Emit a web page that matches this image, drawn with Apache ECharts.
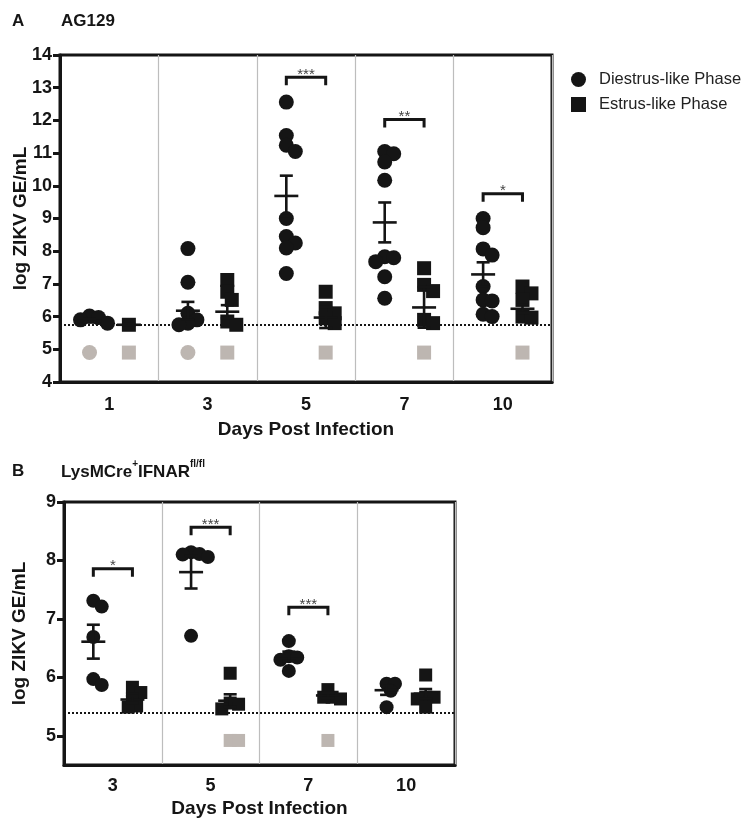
<!DOCTYPE html>
<html>
<head>
<meta charset="utf-8">
<script src="https://cdn.jsdelivr.net/npm/echarts@6/dist/echarts.min.js"></script>
<style>
  html, body { margin: 0; padding: 0; background: #fff; }
  #chart { width: 754px; height: 831px; }
</style>
</head>
<body>
<div id="chart"></div>
<script>
// ---- panel A : AG129 ----
var daysA = ['1', '3', '5', '7', '10'];
var diestrusA = [
    [6.02, 5.97, 5.9, 5.8],
    [8.08, 7.05, 6.1, 5.9, 5.8, 5.75],
    [12.56, 11.54, 11.24, 11.05, 9.0, 8.45, 8.25, 8.1, 7.32],
    [11.05, 10.98, 10.73, 10.17, 7.83, 7.8, 7.68, 7.22, 6.56],
    [9.0, 8.72, 8.07, 7.88, 6.92, 6.51, 6.48, 6.07, 6.0]
];
var estrusA = [
    [5.75],
    [7.12, 6.76, 6.51, 5.85, 5.75],
    [6.76, 6.26, 6.1, 5.95, 5.8],
    [7.48, 6.97, 6.78, 5.9, 5.8],
    [6.92, 6.71, 6.51, 6.0, 5.97]
];
var meanDiestrusA = [5.87, 6.18, 9.69, 8.88, 7.29];
var semDiestrusA = [0.05, 0.27, 0.62, 0.61, 0.37];
var meanEstrusA = [5.75, 6.15, 5.97, 6.28, 6.24];
var semEstrusA = [0.02, 0.2, 0.32, 0.62, 0.13];
var belowDiestrusA = [[4.9], [4.9], [], [], []];
var belowEstrusA = [[4.9], [4.9], [4.9], [4.9], [4.9]];
var limitA = 5.75;
var sigDayA = [2, 3, 4];
var sigHeightA = [13.32, 12.03, 9.76];
var sigStarsA = ['***', '**', '*'];

// ---- panel B : LysMCre+IFNAR fl/fl ----
var daysB = ['3', '5', '7', '10'];
var diestrusB = [
    [7.31, 7.21, 6.69, 5.97, 5.87],
    [8.14, 8.11, 8.1, 8.06, 6.71],
    [6.62, 6.36, 6.34, 6.3, 6.11],
    [5.89, 5.89, 5.77, 5.49]
];
var estrusB = [
    [5.83, 5.74, 5.63, 5.51, 5.49],
    [6.07, 5.56, 5.54, 5.46],
    [5.79, 5.66, 5.66, 5.63],
    [6.04, 5.66, 5.66, 5.63, 5.49]
];
var meanDiestrusB = [6.61, 7.8, 6.36, 5.78];
var semDiestrusB = [0.29, 0.28, 0.08, 0.08];
var meanEstrusB = [5.62, 5.6, 5.69, 5.72];
var semEstrusB = [0.06, 0.11, 0.04, 0.08];
var belowDiestrusB = [[], [], [], []];
var belowEstrusB = [[], [4.92, 4.92], [4.92], []];
var limitB = 5.4;
var sigDayB = [0, 1, 2];
var sigHeightB = [7.86, 8.57, 7.2];
var sigStarsB = ['*', '***', '***'];

var BLACK = '#151515';
var GREY = '#bdb6b1';
var FONT = 'Liberation Sans';
var SHIFT = 0.2; // group offset from the day centre (in bands)

// simple beeswarm: push overlapping points sideways
function spread(values, centre, sx, sy, d) {
    var placed = [];
    values.forEach(function (v) {
        var py = v * sy, k = 0, off = 0;
        while (true) {
            off = (k % 2 ? 1 : -1) * Math.ceil(k / 2) * d * 0.3;
            var ok = placed.every(function (p) {
                var dx = p[0] - off, dy = p[1] - py;
                return dx * dx + dy * dy >= d * d * 0.3;
            });
            if (ok) break;
            k++;
        }
        placed.push([off, py]);
    });
    return placed.map(function (p, i) { return [centre + p[0] / sx, values[i]]; });
}

function points(groups, shift, sx, sy, d) {
    var out = [];
    groups.forEach(function (vals, i) {
        out = out.concat(spread(vals, i + 0.5 + shift, sx, sy, d));
    });
    return out;
}

function meanRows(means, sems, shift) {
    return means.map(function (m, i) { return [i + 0.5 + shift, m, sems[i]]; });
}

function renderMean(params, api) {
    var x = api.value(0), m = api.value(1), s = api.value(2);
    var c = api.coord([x, m]);
    var t = api.coord([x, m + s]);
    var b = api.coord([x, m - s]);
    var st = { stroke: BLACK, lineWidth: 2.6 };
    return {
        type: 'group',
        children: [
            { type: 'line', shape: { x1: c[0] - 12, y1: c[1], x2: c[0] + 12, y2: c[1] }, style: st },
            { type: 'line', shape: { x1: c[0], y1: t[1], x2: c[0], y2: b[1] }, style: st },
            { type: 'line', shape: { x1: c[0] - 6.5, y1: t[1], x2: c[0] + 6.5, y2: t[1] }, style: st },
            { type: 'line', shape: { x1: c[0] - 6.5, y1: b[1], x2: c[0] + 6.5, y2: b[1] }, style: st }
        ]
    };
}

function bracketRenderer(stars) {
    return function (params, api) {
        var p1 = api.coord([api.value(0), api.value(2)]);
        var p2 = api.coord([api.value(1), api.value(2)]);
        return {
            type: 'group',
            children: [
                {
                    type: 'polyline',
                    shape: { points: [[p1[0], p1[1] + 8], [p1[0], p1[1]], [p2[0], p2[1]], [p2[0], p2[1] + 8]] },
                    style: { stroke: BLACK, lineWidth: 3, fill: null }
                },
                {
                    type: 'text',
                    x: (p1[0] + p2[0]) / 2, y: p1[1] + 5,
                    style: {
                        text: stars[params.dataIndex], align: 'center', verticalAlign: 'bottom',
                        fontSize: 15, fontFamily: FONT, fill: '#444'
                    }
                }
            ]
        };
    };
}

function bracketRows(days, heights) {
    return days.map(function (d, i) { return [d + 0.5 - SHIFT, d + 0.5 + SHIFT, heights[i]]; });
}

// pixel scales used by the beeswarm (grid size / axis span)
var sxA = 492 / 5, syA = 327 / 10;
var sxB = 391 / 4, syB = 263 / 4.5;

function catAxis(grid, days, margin, gap) {
    return {
        type: 'category', gridIndex: grid, data: days, boundaryGap: true,
        name: 'Days Post Infection', nameLocation: 'middle', nameGap: gap,
        nameTextStyle: { fontFamily: FONT, fontWeight: 'bold', fontSize: 19, color: BLACK },
        axisLine: { lineStyle: { color: BLACK, width: 3 } },
        axisTick: { alignWithLabel: true, length: 7, lineStyle: { color: BLACK, width: 3 } },
        axisLabel: { fontFamily: FONT, fontWeight: 'bold', fontSize: 18, color: BLACK, margin: margin },
        splitLine: { show: true, lineStyle: { color: '#bdbdbd', width: 1.2 } }
    };
}

function valAxisX(grid, n) {
    return { type: 'value', gridIndex: grid, min: 0, max: n, show: false, splitLine: { show: false } };
}

function yAxis(grid, min, max, ticks, gap) {
    return {
        type: 'value', gridIndex: grid, min: min, max: max,
        name: 'log ZIKV GE/mL', nameLocation: 'middle', nameGap: gap, nameMoveOverlap: false,
        nameTextStyle: { fontFamily: FONT, fontWeight: 'bold', fontSize: 19, color: BLACK },
        axisLine: { show: true, lineStyle: { color: BLACK, width: 3 } },
        axisTick: { show: true, length: 7, customValues: ticks, lineStyle: { color: BLACK, width: 3 } },
        axisLabel: { fontFamily: FONT, fontWeight: 'bold', fontSize: 18, color: BLACK, margin: 8, customValues: ticks },
        splitLine: { show: false }
    };
}

function panelSeries(p) {
    return [
        {
            name: 'limit' + p.key, type: 'scatter', xAxisIndex: p.xi, yAxisIndex: p.yi, z: 1,
            symbol: 'circle', symbolSize: p.d, itemStyle: { color: GREY, opacity: 1 },
            data: points(p.belowD, -SHIFT, p.sx, p.sy, p.d),
            markLine: {
                silent: true, symbol: 'none', label: { show: false },
                lineStyle: { color: BLACK, type: [2, 2], width: 2 },
                data: [{ yAxis: p.limit }]
            }
        },
        {
            name: 'belowE' + p.key, type: 'scatter', xAxisIndex: p.xi, yAxisIndex: p.yi, z: 2,
            symbol: 'rect', symbolSize: p.d - 1, itemStyle: { color: GREY, opacity: 1 },
            data: points(p.belowE, SHIFT, p.sx, p.sy, p.d)
        },
        {
            name: 'Diestrus-like Phase', type: 'scatter', xAxisIndex: p.xi, yAxisIndex: p.yi, z: 3,
            symbol: 'circle', symbolSize: p.d, itemStyle: { color: BLACK, opacity: 1 },
            data: points(p.diestrus, -SHIFT, p.sx, p.sy, p.d)
        },
        {
            name: 'Estrus-like Phase', type: 'scatter', xAxisIndex: p.xi, yAxisIndex: p.yi, z: 3,
            symbol: 'rect', symbolSize: p.d - 1, itemStyle: { color: BLACK, opacity: 1 },
            data: points(p.estrus, SHIFT, p.sx, p.sy, p.d)
        },
        {
            name: 'mean' + p.key, type: 'custom', xAxisIndex: p.xi, yAxisIndex: p.yi, z: 4,
            renderItem: renderMean, encode: { x: 0, y: 1 },
            data: meanRows(p.meanD, p.semD, -SHIFT).concat(meanRows(p.meanE, p.semE, SHIFT))
        },
        {
            name: 'sig' + p.key, type: 'custom', xAxisIndex: p.xi, yAxisIndex: p.yi, z: 4,
            renderItem: bracketRenderer(p.stars), encode: { x: [0, 1], y: 2 },
            data: bracketRows(p.sigDays, p.sigHeights)
        }
    ];
}

var chart = echarts.init(document.getElementById('chart'), null, { renderer: 'canvas' });

var option = {
    animation: false,
    backgroundColor: '#fff',
    title: [
        { text: 'A', left: 7, top: 8, textStyle: { fontFamily: FONT, fontWeight: 'bold', fontSize: 17, color: BLACK } },
        { text: 'AG129', left: 56, top: 8, textStyle: { fontFamily: FONT, fontWeight: 'bold', fontSize: 17, color: BLACK } },
        { text: 'B', left: 7, top: 458, textStyle: { fontFamily: FONT, fontWeight: 'bold', fontSize: 17, color: BLACK } },
        {
            text: '{a|LysMCre}{s|+}{a|IFNAR}{s|fl/fl}', left: 56, top: 454,
            textStyle: {
                rich: {
                    a: { fontFamily: FONT, fontWeight: 'bold', fontSize: 17, color: BLACK, lineHeight: 22, verticalAlign: 'bottom' },
                    s: { fontFamily: FONT, fontWeight: 'bold', fontSize: 10, color: BLACK, lineHeight: 22, verticalAlign: 'top' }
                }
            }
        }
    ],
    legend: {
        orient: 'vertical', left: 566, top: 66, itemWidth: 15, itemHeight: 15, itemGap: 8,
        textStyle: { fontFamily: FONT, fontSize: 16.5, color: '#222', padding: [0, 0, 0, 8] },
        data: [
            { name: 'Diestrus-like Phase', icon: 'circle' },
            { name: 'Estrus-like Phase', icon: 'rect' }
        ]
    },
    grid: [
        { left: 60, top: 55, width: 492, height: 327, show: true, borderColor: BLACK, borderWidth: 3, containLabel: false, outerBoundsMode: 'none' },
        { left: 64, top: 502, width: 391, height: 263, show: true, borderColor: BLACK, borderWidth: 3, containLabel: false, outerBoundsMode: 'none' }
    ],
    xAxis: [
        catAxis(0, daysA, 14, 38),
        valAxisX(0, 5),
        catAxis(1, daysB, 12, 34),
        valAxisX(1, 4)
    ],
    yAxis: [
        yAxis(0, 4, 14, [4, 5, 6, 7, 8, 9, 10, 11, 12, 13, 14], 30),
        yAxis(1, 4.5, 9, [5, 6, 7, 8, 9], 35)
    ],
    series: panelSeries({
        key: 'A', xi: 1, yi: 0, d: 15, sx: sxA, sy: syA,
        diestrus: diestrusA, estrus: estrusA, belowD: belowDiestrusA, belowE: belowEstrusA,
        meanD: meanDiestrusA, semD: semDiestrusA, meanE: meanEstrusA, semE: semEstrusA,
        limit: limitA, sigDays: sigDayA, sigHeights: sigHeightA, stars: sigStarsA
    }).concat(panelSeries({
        key: 'B', xi: 3, yi: 1, d: 14, sx: sxB, sy: syB,
        diestrus: diestrusB, estrus: estrusB, belowD: belowDiestrusB, belowE: belowEstrusB,
        meanD: meanDiestrusB, semD: semDiestrusB, meanE: meanEstrusB, semE: semEstrusB,
        limit: limitB, sigDays: sigDayB, sigHeights: sigHeightB, stars: sigStarsB
    }))
};
chart.setOption(option);
</script>
</body>
</html>
